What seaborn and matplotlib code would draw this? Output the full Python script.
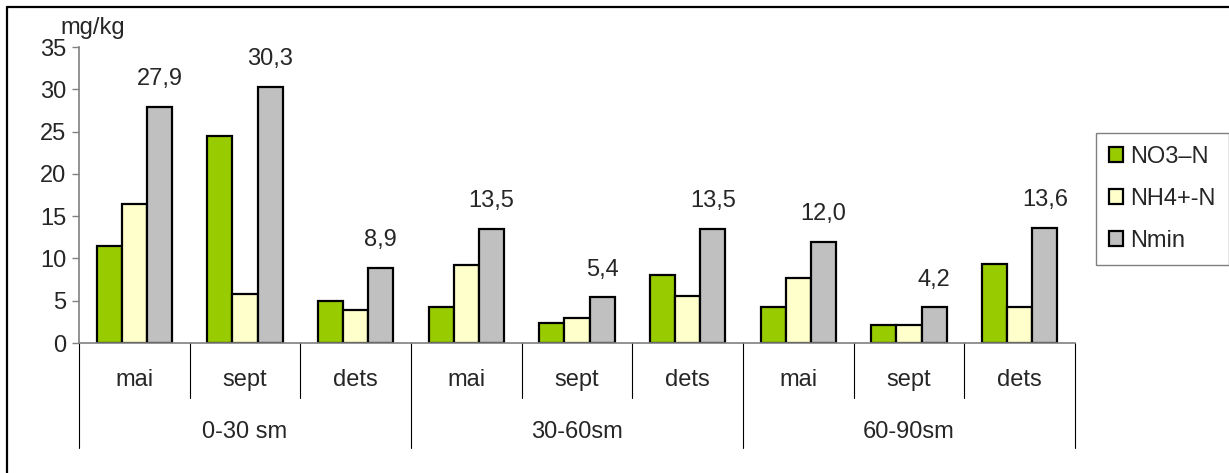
import matplotlib
matplotlib.use("Agg")
import matplotlib.pyplot as plt
import matplotlib.transforms as mtransforms
import pandas as pd
import seaborn as sns

depths = ["0-30 sm", "30-60sm", "60-90sm"]
months = ["mai", "sept", "dets"]
series = ["NO3\u2013N", "NH4+-N", "Nmin"]
no3 = [11.5, 24.5, 5.0, 4.3, 2.4, 8.0, 4.3, 2.1, 9.3]
nh4 = [16.4, 5.8, 3.9, 9.2, 3.0, 5.5, 7.7, 2.1, 4.3]
nmin = [27.9, 30.3, 8.9, 13.5, 5.4, 13.5, 12.0, 4.2, 13.6]
colors = ["#99CC00", "#FFFFCC", "#C0C0C0"]

slots = [f"{d}|{m}" for d in depths for m in months]
df = pd.DataFrame({
    "slot": slots * 3,
    "series": [s for s in series for _ in slots],
    "value": no3 + nh4 + nmin,
})

sns.set_style("white")
plt.rcParams["font.family"] = ["Liberation Sans", "DejaVu Sans"]
FS = 17

W, H = 1229, 473
fig = plt.figure(figsize=(W / 100, H / 100), dpi=100)
ax = fig.add_axes([79 / W, (H - 343) / H, (1075 - 79) / W, (343 - 47) / H])

sns.barplot(data=df, x="slot", y="value", hue="series", order=slots,
            hue_order=series, palette=colors, width=0.68, gap=0,
            edgecolor="black", linewidth=1.6, saturation=1, ax=ax, legend=True)

# value labels above Nmin bars
ax.bar_label(ax.containers[2], fmt=lambda v: f"{v:.1f}".replace(".", ","),
             padding=12, fontsize=FS)

ax.set_ylim(0, 35)
ax.set_yticks(range(0, 36, 5))
ax.set_xlim(-0.5, len(slots) - 0.5)
ax.set_xlabel("")
ax.set_ylabel("")
ax.set_xticks([])
for side in ["top", "right"]:
    ax.spines[side].set_visible(False)
for side in ["left", "bottom"]:
    ax.spines[side].set_color("#808080")
    ax.spines[side].set_linewidth(1.2)
ax.tick_params(axis="y", direction="out", length=5, width=1, color="#808080",
               labelsize=FS, pad=4, left=True)

fig.text(60 / W, 1 - 28 / H, "mg/kg", fontsize=FS, ha="left", va="center")

# hierarchical category axis
trans = mtransforms.blended_transform_factory(ax.transData, ax.transAxes)
n = len(months)
for i in range(len(slots) + 1):
    x = i - 0.5
    bottom = -0.355 if i % n == 0 else -0.185
    ax.plot([x, x], [0, bottom], transform=trans, color="black", lw=0.8,
            clip_on=False)
for i, s in enumerate(slots):
    ax.text(i, -0.125, s.split("|")[1], transform=trans, ha="center",
            va="center", fontsize=FS)
for j, d in enumerate(depths):
    ax.text(j * n + (n - 1) / 2, -0.30, d, transform=trans, ha="center",
            va="center", fontsize=FS)

leg = ax.legend(title=None, loc="upper left",
                bbox_to_anchor=(1096 / W, 1 - 133 / H),
                bbox_transform=fig.transFigure, fontsize=FS, frameon=True,
                fancybox=False, handlelength=0.6, handleheight=0.6,
                handletextpad=0.3, labelspacing=0.85, borderpad=0.55,
                borderaxespad=0)
leg.get_frame().set_edgecolor("#606060")
leg.get_frame().set_linewidth(1.0)

# outer chart frame (top and left edges)
fig.add_artist(plt.Line2D([7 / W, 1], [1 - 7 / H, 1 - 7 / H],
                          transform=fig.transFigure, color="black", lw=1.6))
fig.add_artist(plt.Line2D([7 / W, 7 / W], [0, 1 - 7 / H],
                          transform=fig.transFigure, color="black", lw=1.6))

fig.savefig("out.png", dpi=100)
